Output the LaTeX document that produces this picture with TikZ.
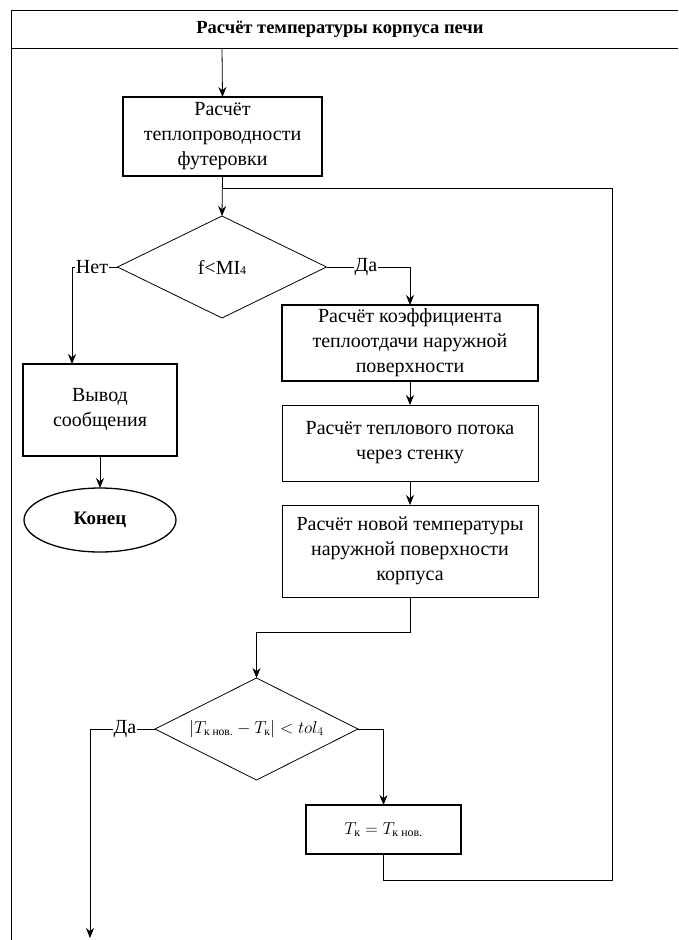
\documentclass[tikz,border=0pt]{standalone}
\usepackage{fontspec}
\usepackage{amsmath}
\setmainfont{Liberation Serif}
\usetikzlibrary{shapes.geometric,arrows.meta}
\begin{document}
\begin{tikzpicture}[x=1pt,y=-1pt,
  line width=0.8pt,
  every node/.style={inner sep=0pt, outer sep=0pt},
  txt/.style={font=\fontsize{20}{25}\selectfont, align=center},
  proc/.style={draw, txt},
  procb/.style={draw, txt, line width=1.3pt},
  dec/.style={draw, diamond, shape aspect=2, txt},
  term/.style={draw, ellipse, txt},
  lbl/.style={fill=white, txt, inner sep=1pt},
  arr/.style={-{Stealth[length=10pt,width=8pt]}}
]
\useasboundingbox (0,0) rectangle (678,940);
% frame
\draw (11,10) -- (678,10);
\draw (11,48) -- (678,48);
\draw (11,10) -- (11,940);
\node[font=\fontsize{18.5}{22}\selectfont\bfseries] (title) at (340,29) {Расчёт температуры корпуса печи};
\coordinate (start) at (222,48);

\node[procb, minimum width=199pt, minimum height=79pt] (b1) at (222.5,136.5) {Расчёт\\теплопроводности\\футеровки};
\node[dec, minimum width=209pt, minimum height=102pt] (d1) at (222,267) {f<MI{\fontsize{12}{12}\selectfont 4}};
\node[procb, minimum width=154pt, minimum height=92pt] (vyv) at (100,410) {Вывод\\сообщения};
\node[term, line width=1.3pt, minimum width=152pt, minimum height=64pt, font=\fontsize{19}{22}\selectfont\bfseries] (end) at (100,520) {Конец};
\node[procb, minimum width=256pt, minimum height=76pt] (b2) at (410,343) {Расчёт коэффициента\\теплоотдачи наружной\\поверхности};
\node[proc, minimum width=256pt, minimum height=76pt] (b3) at (410,443) {Расчёт теплового потока\\через стенку};
\node[proc, minimum width=256pt, minimum height=92pt] (b4) at (410,551) {Расчёт новой температуры\\наружной поверхности\\корпуса};
\node[dec, minimum width=203pt, minimum height=102pt, font=\fontsize{16.5}{20}\selectfont] (d2) at (256.5,729) {$|T_{\text{к нов.}}-T_{\text{к}}|<tol_4$};
\node[procb, minimum width=155pt, minimum height=49pt, font=\fontsize{17}{20}\selectfont] (tk) at (383.5,829.5) {$T_{\text{к}}=T_{\text{к нов.}}$};

\coordinate (vin) at (72,364);
\coordinate (out) at (90,938);
\coordinate (loopB) at (612,880);
\coordinate (loopR) at (612,188);
\coordinate (loopJ) at (222,188);
\coordinate (mid) at (410,632);

\draw[arr] (start) -- (b1.north);
\draw[arr] (b1.south) -- (d1.north);
\draw[arr] (d1.west) -| (vin);
\draw[arr] (vyv.south) -- (end.north);
\draw[arr] (d1.east) -| (b2.north);
\draw[arr] (b2.south) -- (b3.north);
\draw[arr] (b3.south) -- (b4.north);
\draw[arr] (b4.south) -- (mid) -| (d2.north);
\draw[arr] (d2.west) -| (out);
\draw[arr] (d2.east) -| (tk.north);
\draw (tk.south) |- (loopB) -- (loopR) -- (loopJ);

\node[lbl] (net) at (92,267) {Нет};
\node[lbl] (da1) at (366,267) {Да};
\node[lbl] (da2) at (125,729) {Да};
\end{tikzpicture}
\end{document}
